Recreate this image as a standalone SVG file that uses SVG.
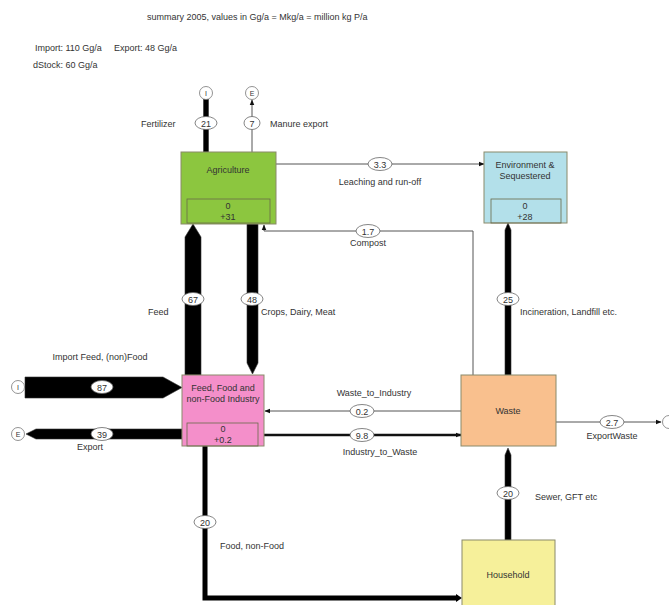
<svg xmlns="http://www.w3.org/2000/svg" width="669" height="605" viewBox="0 0 669 605">
<defs>
<marker id="ah" viewBox="0 0 10 10" refX="9" refY="5" markerWidth="6" markerHeight="6" markerUnits="userSpaceOnUse" orient="auto"><path d="M0,1 L10,5 L0,9 z" fill="#111"/></marker>
</defs>
<style>
text{font-family:"Liberation Sans",Arial,sans-serif;font-size:9px;fill:#333}
.c{text-anchor:middle}
.box{stroke:#8a8a6a;stroke-width:1}
.inner{fill:none;stroke:#6a6a4a;stroke-width:0.8}
.thin{fill:none;stroke:#555;stroke-width:1}
.lab{fill:#fff;stroke:#666;stroke-width:0.8}
.port{fill:#fff;stroke:#777;stroke-width:0.8}
.thick{fill:#000;stroke:#333;stroke-width:0.6}
</style>
<rect width="669" height="605" fill="#fff"/>
<text x="147" y="20">summary 2005, values in Gg/a = Mkg/a = million kg P/a</text>
<text x="35" y="51">Import: 110 Gg/a</text>
<text x="114" y="51">Export: 48 Gg/a</text>
<text x="33" y="68">dStock: 60 Gg/a</text>

<g id="connectors">
  <rect class="thick" x="203.5" y="99" width="5" height="53"/>
  <line class="thin" x1="252" y1="152" x2="252" y2="100" stroke="#222" marker-end="url(#ah)"/>
  <line class="thin" x1="276" y1="164" x2="484" y2="164" marker-end="url(#ah)"/>
  <polyline class="thin" points="473,375 473,231 264,231 264,225" marker-end="url(#ah)"/>
  <polygon class="thick" points="185,375 185,237 193,224 201,237 201,375"/>
  <polygon class="thick" points="247,224 258,224 258,363 252.5,374 247,363"/>
  <polygon class="thick" points="505,375 505,230 508,223 511,230 511,375"/>
  <polygon class="thick" points="505,540 505,455 508,448 511,455 511,540"/>
  <polygon class="thick" points="25,377 163,377 182,387.5 163,398 25,398"/>
  <polygon class="thick" points="182,429 36,429 26,434 36,439 182,439"/>
  <line class="thin" x1="461" y1="411" x2="265" y2="411" marker-end="url(#ah)"/>
  <line x1="264" y1="435" x2="461" y2="435" stroke="#111" stroke-width="2.5" marker-end="url(#ah)"/>
  <line class="thin" x1="556" y1="422" x2="661" y2="422" marker-end="url(#ah)"/>
  <polyline points="205,446 205,598 458,598" fill="none" stroke="#000" stroke-width="5"/>
  <polygon points="456,594 462,598 456,602" fill="#000"/>

  <circle class="port" cx="206" cy="93" r="6.5"/><text class="c" x="206" y="96" style="font-size:7px">I</text>
  <circle class="port" cx="252" cy="93" r="6.5"/><text class="c" x="252" y="96" style="font-size:7px">E</text>
  <circle class="port" cx="18" cy="387" r="6.5"/><text class="c" x="18" y="390" style="font-size:7px">I</text>
  <circle class="port" cx="18" cy="434" r="6.5"/><text class="c" x="18" y="437" style="font-size:7px">E</text>
  <circle class="port" cx="669" cy="422" r="6.5"/>

  <ellipse class="lab" cx="206" cy="123" rx="11" ry="6.5"/><text class="c" x="206" y="126.5">21</text>
  <ellipse class="lab" cx="252" cy="123" rx="8" ry="6.5"/><text class="c" x="252" y="126.5">7</text>
  <ellipse class="lab" cx="380" cy="164" rx="12" ry="6.5"/><text class="c" x="380" y="167.5">3.3</text>
  <ellipse class="lab" cx="368" cy="231" rx="12" ry="6.5"/><text class="c" x="368" y="234.5">1.7</text>
  <ellipse class="lab" cx="193" cy="299" rx="11" ry="6.5"/><text class="c" x="193" y="302.5">67</text>
  <ellipse class="lab" cx="252" cy="299" rx="11" ry="6.5"/><text class="c" x="252" y="302.5">48</text>
  <ellipse class="lab" cx="508" cy="299" rx="11" ry="6.5"/><text class="c" x="508" y="302.5">25</text>
  <ellipse class="lab" cx="102" cy="387" rx="11" ry="6.5"/><text class="c" x="102" y="390.5">87</text>
  <ellipse class="lab" cx="102" cy="434" rx="11" ry="6.5"/><text class="c" x="102" y="437.5">39</text>
  <ellipse class="lab" cx="362" cy="411" rx="12" ry="6.5"/><text class="c" x="362" y="414.5">0.2</text>
  <ellipse class="lab" cx="362" cy="435" rx="12" ry="6.5"/><text class="c" x="362" y="438.5">9.8</text>
  <ellipse class="lab" cx="612" cy="422" rx="12" ry="6.5"/><text class="c" x="612" y="425.5">2.7</text>
  <ellipse class="lab" cx="508" cy="493" rx="11" ry="6.5"/><text class="c" x="508" y="496.5">20</text>
  <ellipse class="lab" cx="205" cy="522" rx="11" ry="6.5"/><text class="c" x="205" y="525.5">20</text>

  <text x="141" y="127">Fertilizer</text>
  <text x="270" y="127">Manure export</text>
  <text class="c" x="380" y="185">Leaching and run-off</text>
  <text class="c" x="368" y="246">Compost</text>
  <text x="148" y="315">Feed</text>
  <text x="261" y="315">Crops, Dairy, Meat</text>
  <text x="520" y="315">Incineration, Landfill etc.</text>
  <text class="c" x="100" y="360">Import Feed, (non)Food</text>
  <text class="c" x="90" y="450">Export</text>
  <text class="c" x="374" y="396">Waste_to_Industry</text>
  <text class="c" x="380" y="455">Industry_to_Waste</text>
  <text class="c" x="612" y="439">ExportWaste</text>
  <text x="535" y="500">Sewer, GFT etc</text>
  <text x="220" y="549">Food, non-Food</text>
</g>

<g id="agriculture">
  <rect class="box" x="181" y="152" width="95" height="72" fill="#8cc63f"/>
  <rect class="inner" x="187" y="199" width="83" height="24"/>
  <text class="c" x="228" y="173">Agriculture</text>
  <text class="c" x="228" y="209">0</text>
  <text class="c" x="228" y="220">+31</text>
</g>
<g id="environment">
  <rect class="box" x="484" y="152" width="83" height="71" fill="#b3e0ea" stroke="#7a9aa0"/>
  <rect class="inner" x="491" y="199" width="70" height="24" stroke="#5a8a90"/>
  <text class="c" x="525" y="168">Environment &amp;</text>
  <text class="c" x="525" y="179">Sequestered</text>
  <text class="c" x="525" y="209">0</text>
  <text class="c" x="525" y="220">+28</text>
</g>
<g id="industry">
  <rect class="box" x="182" y="375" width="82" height="71" fill="#f48fca" stroke="#a06080"/>
  <rect class="inner" x="187" y="423" width="71" height="23" stroke="#8a4060"/>
  <text class="c" x="223" y="391">Feed, Food and</text>
  <text class="c" x="223" y="402">non-Food Industry</text>
  <text class="c" x="223" y="432">0</text>
  <text class="c" x="223" y="443">+0.2</text>
</g>
<g id="waste">
  <rect class="box" x="461" y="375" width="95" height="71" fill="#f9c08e" stroke="#b08060"/>
  <text class="c" x="508" y="414">Waste</text>
</g>
<g id="household">
  <rect class="box" x="462" y="540" width="93" height="70" fill="#f6f09a" stroke="#b0aa60"/>
  <text class="c" x="508" y="578">Household</text>
</g>
</svg>
